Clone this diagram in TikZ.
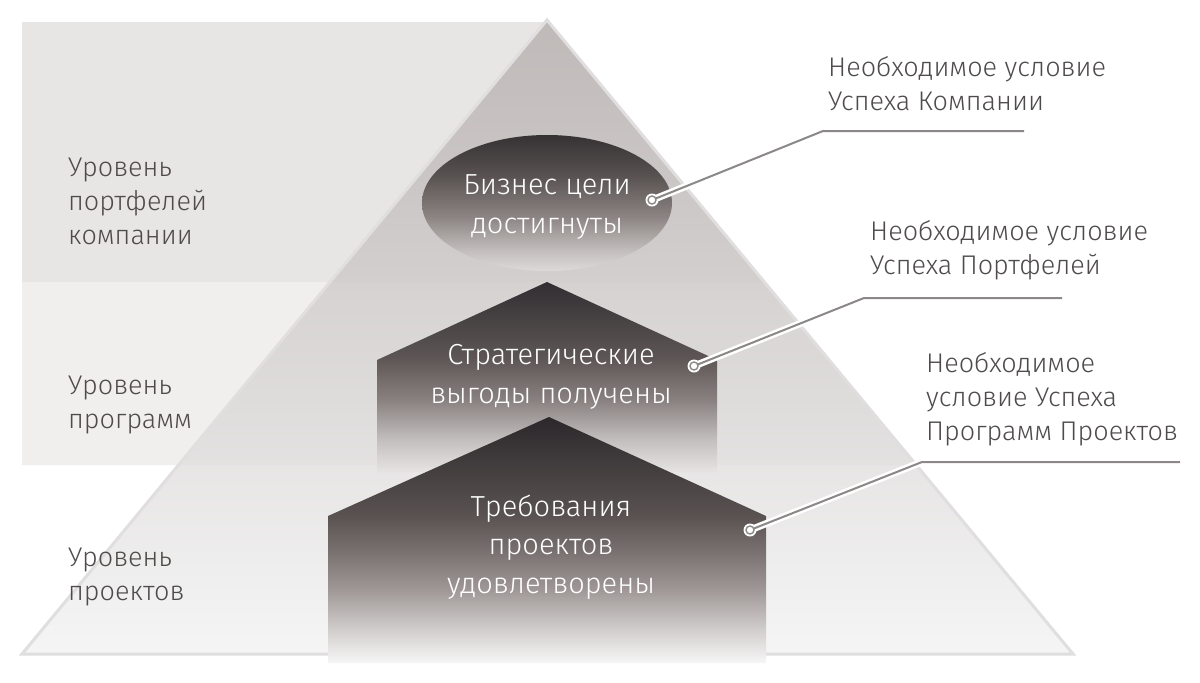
\documentclass[tikz,border=0pt]{standalone}
\usepackage{fontspec}
\setmainfont{Fira Sans Light}
\definecolor{bandA}{HTML}{E8E6E5}
\definecolor{bandB}{HTML}{F0EFEE}
\definecolor{txt}{HTML}{4F4B4B}
\definecolor{conn}{HTML}{8C8888}
\definecolor{triedge}{HTML}{E0DEDE}
\definecolor{triT}{HTML}{C6C0BF}
\definecolor{triB}{HTML}{F5F5F5}
\definecolor{eA}{HTML}{363133}
\definecolor{eB}{HTML}{585251}
\definecolor{eC}{HTML}{8B8483}
\definecolor{eD}{HTML}{C3BEBD}
\definecolor{eE}{HTML}{DEDAD9}
\definecolor{hA}{HTML}{322E32}
\definecolor{hB}{HTML}{5D5655}
\definecolor{hC}{HTML}{888180}
\definecolor{hD}{HTML}{C3BFBE}
\definecolor{hE}{HTML}{E6E4E3}
\definecolor{kA}{HTML}{2C282B}
\definecolor{kB}{HTML}{595251}
\definecolor{kC}{HTML}{7A7271}
\definecolor{kD}{HTML}{9E9796}
\definecolor{kE}{HTML}{CDC9C8}
\definecolor{kF}{HTML}{F7F7F7}
\pgfdeclareverticalshading{trishade}{100bp}{color(0bp)=(triB); color(25bp)=(triB); color(75bp)=(triT); color(100bp)=(triT)}
\pgfdeclareverticalshading{ellshade}{100bp}{color(0bp)=(eE); color(25bp)=(eE); color(32.5bp)=(eD); color(45bp)=(eC); color(60bp)=(eB); color(75bp)=(eA); color(100bp)=(eA)}
\pgfdeclareverticalshading{hshade}{100bp}{color(0bp)=(hE); color(25bp)=(hE); color(33.5bp)=(hD); color(44bp)=(hC); color(55bp)=(hB); color(75bp)=(hA); color(100bp)=(hA)}
\pgfdeclareverticalshading{kshade}{100bp}{color(0bp)=(kF); color(25bp)=(kF); color(32.5bp)=(kE); color(40bp)=(kD); color(47.5bp)=(kC); color(55bp)=(kB); color(75bp)=(kA); color(100bp)=(kA)}
\tikzset{
  lbl/.style={text=txt, align=left, anchor=west, inner sep=0pt, font=\fontsize{27}{34}\selectfont},
  intext/.style={text=white, align=center, inner sep=0pt, font=\fontsize{29}{38.5}\selectfont},
  halo/.style={white, line width=7pt},
  connline/.style={conn, line width=2pt},
  dotring/.style={circle, draw=conn, fill=white, line width=1.4pt, minimum size=8pt, inner sep=0pt},
  dothalo/.style={circle, fill=white, minimum size=13pt, inner sep=0pt}
}
\begin{document}
\begin{tikzpicture}[x=1pt,y=-1pt]
\useasboundingbox (0,0) rectangle (1200,683);
\fill[white] (0,0) rectangle (1200,683);
% bands
\fill[bandA] (22,22) -- (549,22) -- (764,282) -- (22,282) -- cycle;
\fill[bandB] (22,282) -- (764,282) -- (916,465) -- (22,465) -- cycle;
% pyramid
\coordinate (apex) at (547,20);
\coordinate (bl) at (22,654);
\coordinate (br) at (1073,654);
\shade[shading=trishade] (apex) -- (br) -- (bl) -- cycle;
\begin{scope}
\clip (apex) -- (br) -- (bl) -- cycle;
\fill[black, opacity=0.03] (22,22) -- (549,22) -- (764,282) -- (22,282) -- cycle;
\fill[black, opacity=0.015] (22,282) -- (764,282) -- (916,465) -- (22,465) -- cycle;
\end{scope}
\draw[triedge, line width=3pt, line join=miter] (apex) -- (br) -- (bl) -- cycle;
% shapes
\shade[shading=hshade] (547,282) -- (717,360) -- (717,472) -- (377,472) -- (377,360) -- cycle;
\shade[shading=kshade] (549,417) -- (766,516) -- (766,663) -- (328,663) -- (328,516) -- cycle;
\shade[shading=ellshade] (547,203) ellipse [x radius=125, y radius=68];
\node[intext] (goal) at (547,207) {Бизнес цели\\достигнуты};
\node[intext] (bene) at (551,377) {Стратегические\\выгоды получены};
\node[intext] (req) at (551,547) {Требования\\проектов\\удовлетворены};
% left labels
\node[lbl] (lvl1) at (68,201) {Уровень\\портфелей\\компании};
\node[lbl] (lvl2) at (68,405) {Уровень\\программ};
\node[lbl] (lvl3) at (68,577) {Уровень\\проектов};
% right labels
\node[lbl] (cond1) at (828,84) {Необходимое условие\\Успеха Компании};
\node[lbl] (cond2) at (870,250) {Необходимое условие\\Успеха Портфелей};
\node[lbl] (cond3) at (926,399) {Необходимое\\условие Успеха\\Программ Проектов};
% connectors
\coordinate (s1) at (652,200);
\coordinate (b1) at (823,131);
\coordinate (e1) at (1024,131);
\coordinate (s2) at (694,366);
\coordinate (b2) at (864,298);
\coordinate (e2) at (1062,298);
\coordinate (s3) at (750,530);
\coordinate (b3) at (922,462);
\coordinate (e3) at (1180,462);
\draw[halo] (s1) -- (b1);
\draw[halo] (s2) -- (b2);
\draw[halo] (s3) -- (b3);
\node[dothalo] (h1) at (s1) {};
\node[dothalo] (h2) at (s2) {};
\node[dothalo] (h3) at (s3) {};
\draw[connline] (s1) -- (b1) -- (e1);
\draw[connline] (s2) -- (b2) -- (e2);
\draw[connline] (s3) -- (b3) -- (e3);
\node[dotring] (d1) at (s1) {};
\node[dotring] (d2) at (s2) {};
\node[dotring] (d3) at (s3) {};
\end{tikzpicture}
\end{document}
